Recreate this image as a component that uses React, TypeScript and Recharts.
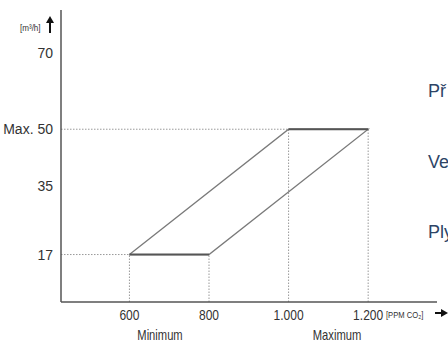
import React from "react";
import { ComposedChart, Line, XAxis, YAxis, ReferenceLine } from "recharts";

// CO2 concentration (ppm) thresholds
const ppmTicks = [600, 800, 1000, 1200];
const ppmLow = [600, 800]; // start of ramp at minimum flow
const ppmHigh = [1000, 1200]; // end of ramp at maximum flow
// Air flow (m3/h)
const flowTicks = [17, 35, 50, 70];
const flowMin = 17;
const flowMax = 50;
// envelope of the control band
const envelope = [
  { ppm: 600, flow: 17 },
  { ppm: 1000, flow: 50 },
  { ppm: 1200, flow: 50 },
  { ppm: 800, flow: 17 },
  { ppm: 600, flow: 17 },
];
const bottomEdge = [
  { ppm: 600, flow: 17 },
  { ppm: 800, flow: 17 },
];
const topEdge = [
  { ppm: 1000, flow: 50 },
  { ppm: 1200, flow: 50 },
];
const sideTexts = ["Př", "Ve", "Ply"];

const FONT = "'Liberation Sans', Arial, sans-serif";
const X_DOMAIN = [428, 1373];
const Y_DOMAIN = [4.5, 81.4];
const fmtX = (v: number) => (v >= 1000 ? `${Math.floor(v / 1000)}.${String(v % 1000).padStart(3, "0")}` : String(v));
const fmtY = (v: number) => (v === flowMax ? `Max. ${v}` : String(v));

const XTick = (props: any) => {
  const { x, y, payload } = props;
  return (
    <g transform={`translate(${x},${y})`}>
      <text transform="scale(0.86,1)" x={0} y={10} textAnchor="middle" fontSize={14} fill="#333" fontFamily={FONT}>
        {fmtX(payload.value)}
      </text>
    </g>
  );
};

export default function App() {
  const dot = "1.5 1.5";
  return (
    <div style={{ position: "absolute", left: 0, top: 0, width: 448, height: 343, background: "#fff" }}>
      <ComposedChart width={448} height={343} margin={{ top: 10, right: 11, bottom: 0, left: 0 }}>
        <XAxis
          dataKey="ppm"
          type="number"
          domain={X_DOMAIN}
          ticks={ppmTicks}
          tickLine={false}
          axisLine={{ stroke: "#555", strokeWidth: 1.5 }}
          tick={XTick}
          height={41}
          allowDataOverflow
        />
        <YAxis
          type="number"
          dataKey="flow"
          domain={Y_DOMAIN}
          ticks={flowTicks}
          tickFormatter={fmtY}
          tickLine={false}
          axisLine={{ stroke: "#555", strokeWidth: 1.5 }}
          tick={{ fill: "#333", fontSize: 14, fontFamily: FONT }}
          width={61}
          allowDataOverflow
        />
        <ReferenceLine
          segment={[{ x: X_DOMAIN[0], y: flowMin }, { x: ppmLow[0], y: flowMin }]}
          stroke="#999"
          strokeDasharray={dot}
          ifOverflow="visible"
        />
        <ReferenceLine
          segment={[{ x: X_DOMAIN[0], y: flowMax }, { x: ppmHigh[0], y: flowMax }]}
          stroke="#999"
          strokeDasharray={dot}
          ifOverflow="visible"
        />
        {ppmLow.map((p) => (
          <ReferenceLine key={"l" + p} segment={[{ x: p, y: Y_DOMAIN[0] }, { x: p, y: flowMin }]} stroke="#999" strokeDasharray={dot} ifOverflow="visible" />
        ))}
        {ppmHigh.map((p) => (
          <ReferenceLine key={"h" + p} segment={[{ x: p, y: Y_DOMAIN[0] }, { x: p, y: flowMax }]} stroke="#999" strokeDasharray={dot} ifOverflow="visible" />
        ))}
        <Line data={envelope} dataKey="flow" type="linear" stroke="#7a7a7a" strokeWidth={1.3} dot={false} isAnimationActive={false} />
        <Line data={bottomEdge} dataKey="flow" type="linear" stroke="#555" strokeWidth={2} dot={false} isAnimationActive={false} />
        <Line data={topEdge} dataKey="flow" type="linear" stroke="#555" strokeWidth={2} dot={false} isAnimationActive={false} />
        <g transform="translate(20,31) scale(0.85,1)">
          <text x={0} y={0} fontSize={9.5} fill="#333" fontFamily={FONT}>
            [m³/h]
          </text>
        </g>
        <path d="M50 33 L50 21" stroke="#111" strokeWidth={2} />
        <path d="M46 23 L50 16 L54 23 Z" fill="#111" />
        <g transform="translate(386,318) scale(0.85,1)">
          <text x={0} y={0} fontSize={9} fill="#333" fontFamily={FONT}>
            [PPM CO₂]
          </text>
        </g>
        <path d="M435 313 L445 313" stroke="#111" strokeWidth={2} />
        <path d="M441 309 L448 313 L441 317 Z" fill="#111" />
        <g transform="translate(160,340) scale(0.8,1)">
          <text x={0} y={0} fontSize={14} fill="#333" fontFamily={FONT} textAnchor="middle">
            Minimum
          </text>
        </g>
        <g transform="translate(337,340) scale(0.8,1)">
          <text x={0} y={0} fontSize={14} fill="#333" fontFamily={FONT} textAnchor="middle">
            Maximum
          </text>
        </g>
        {sideTexts.map((t, i) => (
          <text key={t} x={428} y={97 + i * 70.5} fontSize={18} fill="#2d4466" fontFamily={FONT}>
            {t}
          </text>
        ))}
      </ComposedChart>
    </div>
  );
}
